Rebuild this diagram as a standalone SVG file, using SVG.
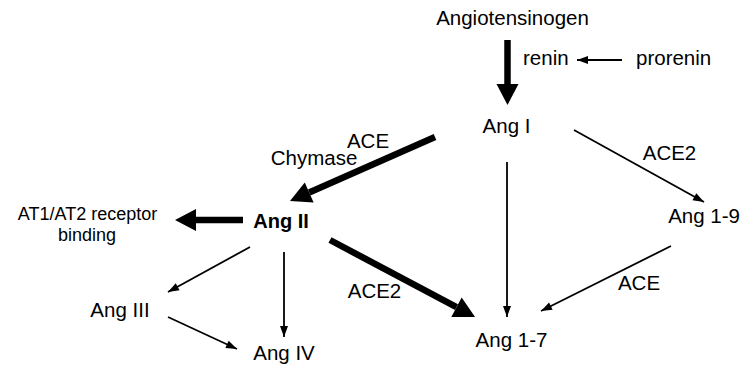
<svg xmlns="http://www.w3.org/2000/svg" width="741" height="367" viewBox="0 0 741 367">
<style>
text { font-family: "Liberation Sans", Arial, sans-serif; font-size: 20.5px; fill: #000; }
.b { font-weight: bold; font-size: 20px; }
.s { font-size: 18px; }
.thick { stroke: #000; stroke-width: 6.5; fill: none; marker-end: url(#hk); }
.thin { stroke: #000; stroke-width: 1.8; fill: none; marker-end: url(#hn); }
</style>
<defs>
<marker id="hk" markerUnits="userSpaceOnUse" markerWidth="21" markerHeight="22" refX="0" refY="11" orient="auto" overflow="visible">
<path d="M0,0 L21,11 L0,22 z" fill="#000"/>
</marker>
<marker id="hn" markerUnits="userSpaceOnUse" markerWidth="11" markerHeight="8" refX="11" refY="4" orient="auto" overflow="visible">
<path d="M0,0 L11,4 L0,8 z" fill="#000"/>
</marker>
</defs>
<rect width="741" height="367" fill="#fff"/>
<g id="connectors">
<line class="thick" x1="507.5" y1="40" x2="507.5" y2="84"/>
<line class="thin" x1="622" y1="60" x2="577" y2="60"/>
<line class="thick" x1="435" y1="137" x2="309.2" y2="192.5"/>
<line class="thick" x1="243" y1="220" x2="196" y2="220"/>
<line class="thick" x1="330" y1="240" x2="456.5" y2="307.2"/>
<line class="thin" x1="574" y1="130" x2="704" y2="202"/>
<line class="thin" x1="507" y1="162" x2="507" y2="317"/>
<line class="thin" x1="671" y1="246" x2="541" y2="311"/>
<line class="thin" x1="250" y1="247" x2="168" y2="292"/>
<line class="thin" x1="284" y1="252" x2="284" y2="337"/>
<line class="thin" x1="168" y1="317" x2="237" y2="349"/>
</g>
<g id="angiotensinogen"><text x="512.5" y="25" text-anchor="middle">Angiotensinogen</text></g>
<g id="renin"><text x="523" y="65">renin</text></g>
<g id="prorenin"><text x="636" y="65">prorenin</text></g>
<g id="ang1"><text x="506.5" y="133" text-anchor="middle">Ang I</text></g>
<g id="lbl-ace2-top"><text x="669.5" y="160" text-anchor="middle">ACE2</text></g>
<g id="ang19"><text x="740" y="223" text-anchor="end">Ang 1-9</text></g>
<g id="lbl-ace-top"><text x="368" y="148" text-anchor="middle">ACE</text></g>
<g id="lbl-chymase"><text x="314" y="165" text-anchor="middle">Chymase</text></g>
<g id="receptor"><text class="s" x="87.5" y="220" text-anchor="middle">AT1/AT2 receptor</text><text class="s" x="87" y="241" text-anchor="middle">binding</text></g>
<g id="ang2"><text class="b" x="281" y="228" text-anchor="middle">Ang II</text></g>
<g id="ang3"><text x="120" y="317" text-anchor="middle">Ang III</text></g>
<g id="ang4"><text x="284" y="360" text-anchor="middle">Ang IV</text></g>
<g id="lbl-ace2-mid"><text x="374.5" y="298" text-anchor="middle">ACE2</text></g>
<g id="lbl-ace-bot"><text x="639" y="290" text-anchor="middle">ACE</text></g>
<g id="ang17"><text x="511.5" y="347" text-anchor="middle">Ang 1-7</text></g>
</svg>
